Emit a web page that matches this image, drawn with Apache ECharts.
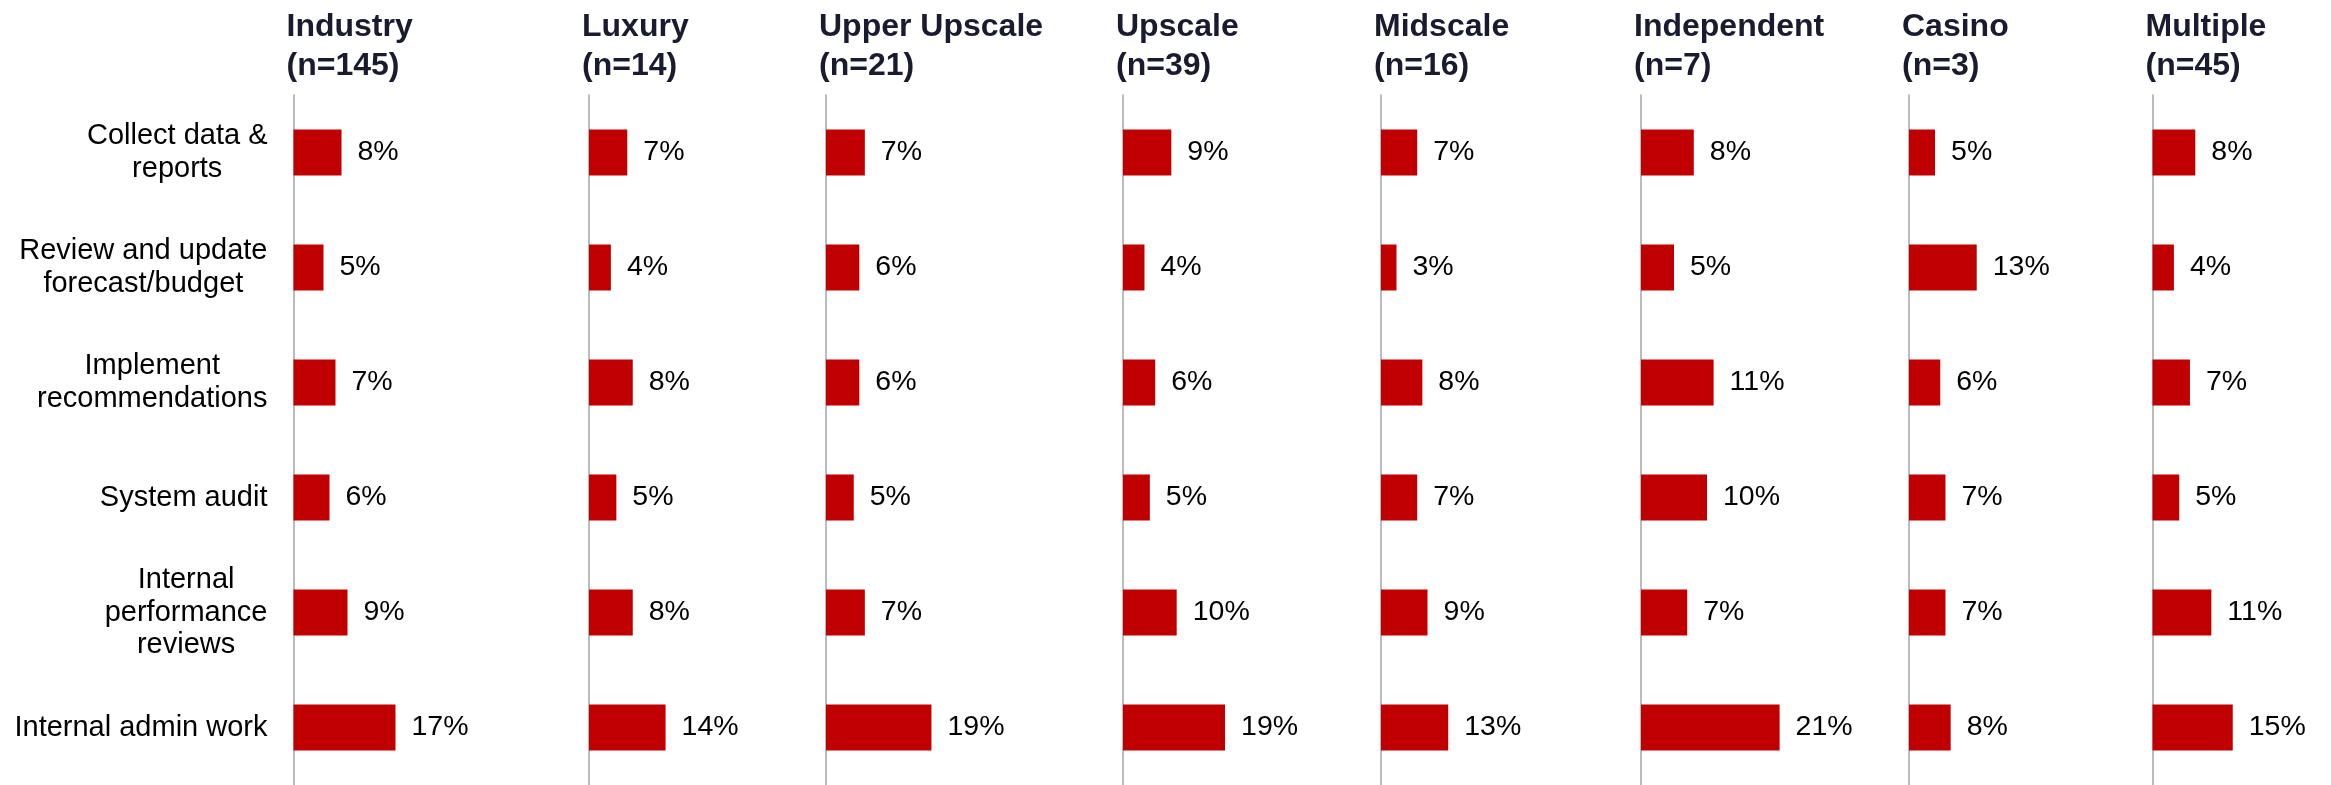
<!DOCTYPE html>
<html>
<head>
<meta charset="utf-8">
<title>Time spent by segment</title>
<script src="https://cdn.jsdelivr.net/npm/echarts@6/dist/echarts.min.js"></script>
<style>
  html, body { margin: 0; padding: 0; background: #ffffff; }
  #chart { width: 2331px; height: 785px; }
</style>
</head>
<body>
<div id="chart"></div>
<script>
// Activities (rows, top to bottom)
const categories = [
  'Collect data &\nreports',
  'Review and update\nforecast/budget',
  'Implement\nrecommendations',
  'System audit',
  'Internal\nperformance\nreviews',
  'Internal admin work'
];

// Segments (columns) and their sample sizes
const segments = ['Industry', 'Luxury', 'Upper Upscale', 'Upscale', 'Midscale', 'Independent', 'Casino', 'Multiple'];
const sampleSizes = [145, 14, 21, 39, 16, 7, 3, 45];

// Share of time per activity (%), one array per segment
const industry     = [8, 5, 7, 6, 9, 17];
const luxury       = [7, 4, 8, 5, 8, 14];
const upperUpscale = [7, 6, 6, 5, 7, 19];
const upscale      = [9, 4, 6, 5, 10, 19];
const midscale     = [7, 3, 8, 7, 9, 13];
const independent  = [8, 5, 11, 10, 7, 21];
const casino       = [5, 13, 6, 7, 7, 8];
const multiple     = [8, 4, 7, 5, 11, 15];

const seriesValues = [industry, luxury, upperUpscale, upscale, midscale, independent, casino, multiple];

// Panel layout: left edge of each panel's axis and its horizontal scale (px per percentage point)
const panelLeft = [293.5, 589, 826, 1123, 1381, 1641, 1909, 2152.5];
const pxPerPoint = [6.0, 5.47, 5.55, 5.37, 5.17, 6.6, 5.21, 5.35];
const panelWidth = 150;
const plotTop = 95;
const plotHeight = 690;

const FONT = '"Liberation Sans", Arial, Helvetica, sans-serif';

const chart = echarts.init(document.getElementById('chart'), null, { renderer: 'canvas' });

const grids = [], xAxes = [], yAxes = [], series = [], titles = [];

segments.forEach((name, i) => {
  grids.push({
    left: panelLeft[i],
    top: plotTop,
    width: panelWidth,
    height: plotHeight,
    containLabel: false,
    outerBoundsMode: 'none'
  });
  xAxes.push({
    gridIndex: i,
    type: 'value',
    min: 0,
    max: panelWidth / pxPerPoint[i],
    show: false
  });
  yAxes.push({
    gridIndex: i,
    type: 'category',
    inverse: true,
    data: categories,
    axisTick: { show: false },
    axisLine: { show: true, lineStyle: { color: '#a6a6a6', width: 1.5 } },
    splitLine: { show: false },
    axisLabel: {
      show: i === 0,
      margin: 26,
      align: 'right',
      fontFamily: FONT,
      fontSize: 29,
      lineHeight: 32.5,
      color: '#000000',
      // each line centred inside the right-aligned block
      formatter: (v) => v.split('\n').map(s => '{c|' + s + '}').join('\n'),
      rich: { c: { align: 'center', fontFamily: FONT, fontSize: 29, lineHeight: 32.5, color: '#000000' } }
    }
  });
  series.push({
    type: 'bar',
    name: name,
    xAxisIndex: i,
    yAxisIndex: i,
    data: seriesValues[i],
    barWidth: 46,
    itemStyle: { color: '#C00000' },
    label: {
      show: true,
      position: 'right',
      distance: 16,
      formatter: '{c}%',
      fontFamily: FONT,
      fontSize: 28.5,
      color: '#000000'
    },
    silent: true,
    animation: false
  });
  titles.push({
    text: name + '\n(n=' + sampleSizes[i] + ')',
    left: panelLeft[i] - 7,
    top: 8,
    padding: 0,
    textStyle: {
      fontFamily: FONT,
      fontSize: 32,
      fontWeight: 'bold',
      lineHeight: 38.5,
      color: '#1b1b30'
    }
  });
});

chart.setOption({
  backgroundColor: '#ffffff',
  animation: false,
  title: titles,
  grid: grids,
  xAxis: xAxes,
  yAxis: yAxes,
  series: series
});
</script>
</body>
</html>
